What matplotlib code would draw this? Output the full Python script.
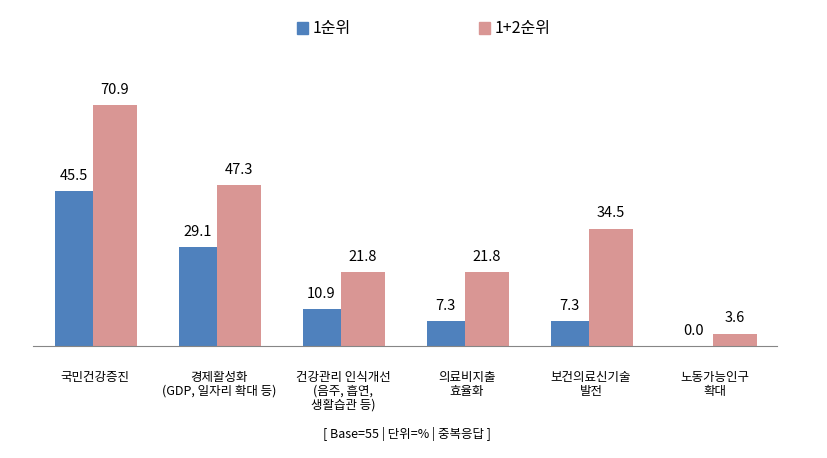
import matplotlib
matplotlib.use('Agg')
import matplotlib.pyplot as plt
from matplotlib.patches import Patch
import numpy as np

plt.rcParams['font.family'] = ['Noto Sans CJK KR', 'DejaVu Sans']

categories = ['국민건강증진', '경제활성화\n(GDP, 일자리 확대 등)', '건강관리 인식개선\n(음주, 흡연,\n생활습관 등)',
              '의료비지출\n효율화', '보건의료신기술\n발전', '노동가능인구\n확대']
rank1 = [45.5, 29.1, 10.9, 7.3, 7.3, 0.0]
rank12 = [70.9, 47.3, 21.8, 21.8, 34.5, 3.6]
series_names = ['1순위', '1+2순위']
colors = ['#4F81BD', '#D99694']
note = '[ Base=55 | 단위=% | 중복응답 ]'

W, H = 828, 458
fig = plt.figure(figsize=(W / 100, H / 100), dpi=100)
ax = fig.add_axes([33 / W, (H - 346) / H, (777 - 33) / W, (346 - 74) / H])

x = np.arange(len(categories))
w1, w2 = 0.306, 0.355
b1 = ax.bar(x - 0.02, rank1, width=-w1, align='edge', color=colors[0])
b2 = ax.bar(x - 0.02, rank12, width=w2, align='edge', color=colors[1])

for bars, vals in ((b1, rank1), (b2, rank12)):
    for b, v in zip(bars, vals):
        ax.annotate(f'{v:.1f}', (b.get_x() + b.get_width() / 2, v),
                    xytext=(0, 6), textcoords='offset points',
                    ha='center', va='bottom', fontsize=10.5)

ax.set_xlim(-0.5, len(categories) - 0.5)
ax.set_ylim(0, 80)
ax.set_yticks([])
ax.set_xticks(x)
ax.set_xticklabels(categories, fontsize=9, linespacing=1.1, va='top')
ax.tick_params(axis='x', length=0, pad=18)
for s in ['top', 'right', 'left']:
    ax.spines[s].set_visible(False)
ax.spines['bottom'].set_color('#868686')

handles = [Patch(color=c) for c in colors]
fig.legend(handles, series_names, loc='center', bbox_to_anchor=(424 / W, 1 - 29 / H),
           ncol=2, frameon=False, fontsize=11.5, columnspacing=8.0,
           handlelength=0.7, handleheight=0.7, handletextpad=0.3)

fig.text(407 / W, 1 - 434 / H, note, ha='center', va='center', fontsize=9)

fig.savefig('out.png', dpi=100)
